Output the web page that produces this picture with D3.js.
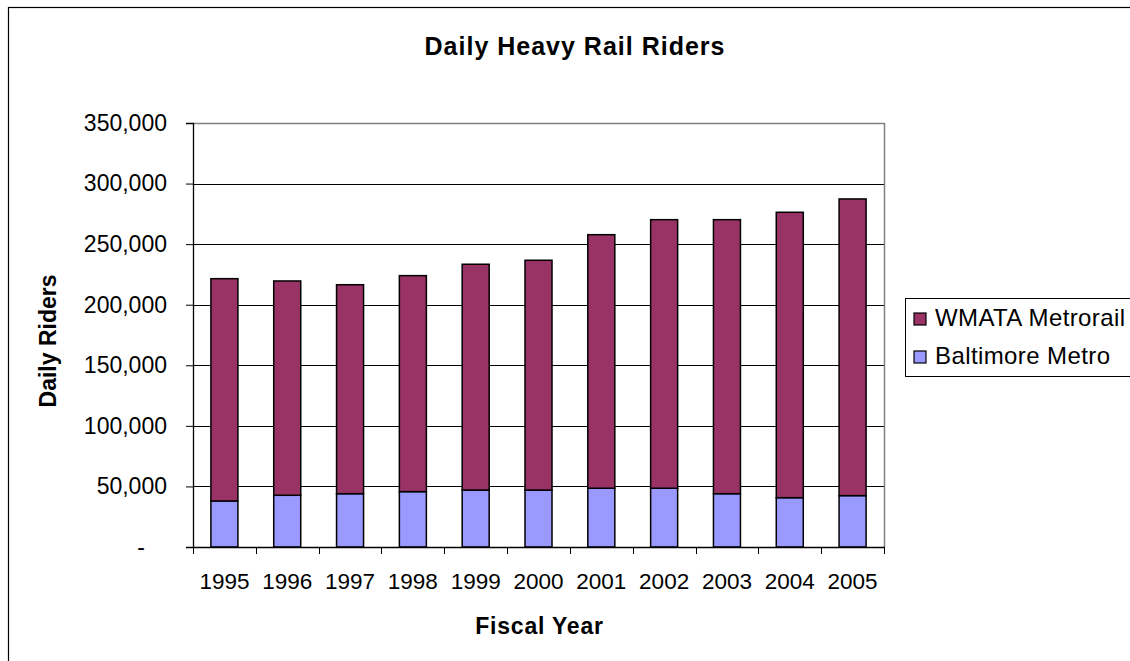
<!DOCTYPE html>
<html lang="en">
<head>
    <meta charset="UTF-8">
    <title>Daily Heavy Rail Riders</title>
    <script src="https://d3js.org/d3.v7.min.js"></script>
    <style>
        body { margin: 0; background: #fff; font-family: Arial, 'Liberation Sans', sans-serif; }
        svg { display: block; }
    </style>
</head>
<body>
<div id="chart"></div>
<script>
    // Values
    const years = ['1995', '1996', '1997', '1998', '1999', '2000', '2001', '2002', '2003', '2004', '2005'];
    const baltimore = [38000, 42700, 44000, 45700, 47000, 47000, 48500, 48500, 44000, 40700, 42400];
    const wmata = [183500, 176900, 172500, 178300, 186400, 189700, 209300, 221700, 226200, 235600, 244900];
    const yTicks = [0, 50000, 100000, 150000, 200000, 250000, 300000, 350000];
    const seriesNames = ['Baltimore Metro', 'WMATA Metrorail'];
    const seriesColors = ['#9999ff', '#993366'];

    const width = 1130, height = 661;
    const plot = { left: 193, right: 884, top: 123, bottom: 547 };

    const svg = d3.select('#chart').append('svg')
        .attr('width', width)
        .attr('height', height);

    // outer chart border (cropped at right and bottom like the source)
    svg.append('rect')
        .attr('x', 8.5).attr('y', 7.5)
        .attr('width', width + 20).attr('height', height + 20)
        .attr('fill', 'none')
        .attr('stroke', '#000')
        .attr('stroke-width', 1.2);

    const x = d3.scaleBand()
        .domain(years)
        .range([plot.left, plot.right])
        .paddingInner(0.57)
        .paddingOuter(0.285);

    const y = d3.scaleLinear()
        .domain([0, 350000])
        .range([plot.bottom, plot.top]);

    // gridlines
    svg.append('g')
        .selectAll('line')
        .data(yTicks.filter(d => d > 0 && d < 350000))
        .join('line')
        .attr('x1', plot.left).attr('x2', plot.right)
        .attr('y1', d => Math.round(y(d)) + 0.5).attr('y2', d => Math.round(y(d)) + 0.5)
        .attr('stroke', '#000')
        .attr('stroke-width', 1);

    // plot area border (top and right, gray)
    svg.append('path')
        .attr('d', `M${plot.left},${plot.top + 0.5}H${plot.right + 0.5}V${plot.bottom}`)
        .attr('fill', 'none')
        .attr('stroke', '#808080')
        .attr('stroke-width', 1.5);

    // stacked bars
    const rows = years.map((yr, i) => ({ year: yr, 'Baltimore Metro': baltimore[i], 'WMATA Metrorail': wmata[i] }));
    const stacked = d3.stack().keys(seriesNames)(rows);

    svg.append('g')
        .selectAll('g')
        .data(stacked)
        .join('g')
        .attr('fill', (d, i) => seriesColors[i])
        .selectAll('rect')
        .data(d => d)
        .join('rect')
        .attr('x', d => x(d.data.year))
        .attr('y', d => y(d[1]))
        .attr('width', x.bandwidth())
        .attr('height', d => y(d[0]) - y(d[1]))
        .attr('stroke', '#000')
        .attr('stroke-width', 1.5);

    // y axis
    const yAxis = svg.append('g')
        .attr('transform', `translate(${plot.left},0)`)
        .call(d3.axisLeft(y)
            .tickValues(yTicks)
            .tickSize(7)
            .tickPadding(19)
            .tickFormat(d => d === 0 ? '-' : d3.format(',')(d)));
    yAxis.select('.domain').attr('stroke', '#000').attr('stroke-width', 1.3);
    yAxis.selectAll('.tick line').attr('stroke', '#000');
    yAxis.selectAll('text')
        .attr('fill', '#000')
        .style('font-family', 'Arial, "Liberation Sans", sans-serif')
        .style('font-size', '23px');
    // accounting-style dash for zero sits further left
    yAxis.selectAll('.tick text').filter(d => d === 0).attr('dx', -22);

    // x axis with ticks between categories
    const xAxis = svg.append('g')
        .attr('transform', `translate(0,${plot.bottom})`)
        .call(d3.axisBottom(x).tickSize(0).tickPadding(26));
    xAxis.select('.domain').attr('stroke', '#000').attr('stroke-width', 1.3);
    xAxis.selectAll('text')
        .attr('fill', '#000')
        .style('font-family', 'Arial, "Liberation Sans", sans-serif')
        .style('font-size', '22.5px');

    const step = x.step();
    const boundaries = d3.range(years.length + 1).map(i => plot.left + i * step);
    svg.append('g')
        .selectAll('line')
        .data(boundaries)
        .join('line')
        .attr('x1', d => Math.round(d) + 0.5).attr('x2', d => Math.round(d) + 0.5)
        .attr('y1', plot.bottom).attr('y2', plot.bottom + 7)
        .attr('stroke', '#000');

    // titles
    svg.append('text')
        .attr('x', 575).attr('y', 55)
        .attr('text-anchor', 'middle')
        .style('font-size', '25px').style('font-weight', 'bold')
        .style('letter-spacing', '1px')
        .text('Daily Heavy Rail Riders');

    svg.append('text')
        .attr('x', (plot.left + plot.right) / 2 + 1).attr('y', 634)
        .attr('text-anchor', 'middle')
        .style('font-size', '23px').style('font-weight', 'bold')
        .style('letter-spacing', '0.8px')
        .text('Fiscal Year');

    svg.append('text')
        .attr('transform', `translate(56,${(plot.top + plot.bottom) / 2 + 6}) rotate(-90)`)
        .attr('text-anchor', 'middle')
        .style('font-size', '23px').style('font-weight', 'bold')
        .text('Daily Riders');

    // legend
    const legend = svg.append('g');
    legend.append('rect')
        .attr('x', 905.5).attr('y', 298.5)
        .attr('width', 260).attr('height', 78)
        .attr('fill', '#fff')
        .attr('stroke', '#000')
        .attr('stroke-width', 1);

    const legendItems = [
        { name: seriesNames[1], color: seriesColors[1] },
        { name: seriesNames[0], color: seriesColors[0] }
    ];
    const li = legend.selectAll('g.item')
        .data(legendItems)
        .join('g')
        .attr('class', 'item')
        .attr('transform', (d, i) => `translate(914,${313 + i * 38})`);
    li.append('rect')
        .attr('width', 12).attr('height', 12)
        .attr('fill', d => d.color)
        .attr('stroke', '#000')
        .attr('stroke-width', 1.2);
    li.append('text')
        .attr('x', 21).attr('y', 13)
        .style('font-size', '24px')
        .style('letter-spacing', '0.4px')
        .text(d => d.name);
</script>
</body>
</html>
